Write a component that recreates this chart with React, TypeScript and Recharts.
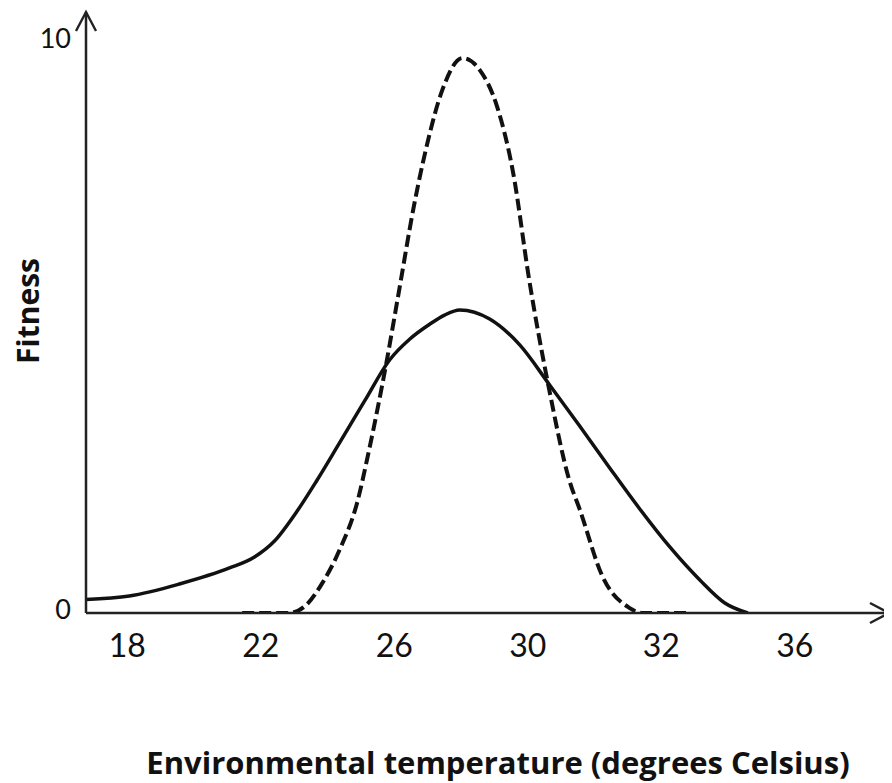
import React from 'react';
import { LineChart, Line, XAxis, YAxis } from 'recharts';

// Tick positions along the (visually evenly spaced) temperature axis, and their labels
const TICK_POSITIONS = [0, 1, 2, 3, 4, 5];
const TEMPERATURE_LABELS = ['18', '22', '26', '30', '32', '36'];
const FITNESS_TICKS = [0, 10];

// Broad (solid) fitness curve, x in tick-position units
const BROAD_X = [-0.311, 0.015, 0.39, 0.765, 0.952, 1.102, 1.267, 1.417, 1.589, 1.777, 1.964, 2.114, 2.264, 2.376, 2.489, 2.714, 2.939, 3.163, 3.388, 3.613, 3.838, 4.063, 4.288, 4.475, 4.648];
const BROAD_FITNESS = [0.235, 0.296, 0.504, 0.783, 0.974, 1.252, 1.757, 2.296, 2.957, 3.687, 4.4, 4.76, 5.02, 5.18, 5.27, 5.113, 4.661, 3.965, 3.252, 2.522, 1.809, 1.148, 0.574, 0.174, 0];

// Narrow (dashed) fitness curve
const NARROW_X = [0.86, 1.21, 1.34, 1.46, 1.59, 1.72, 1.81, 1.94, 2.04, 2.14, 2.24, 2.36, 2.51, 2.64, 2.77, 2.89, 3.01, 3.16, 3.31, 3.39, 3.56, 3.76, 3.86, 4.21];
const NARROW_FITNESS = [0, 0, 0.14, 0.52, 1.1, 1.91, 2.83, 4.35, 5.67, 7.0, 8.1, 9.1, 9.65, 9.44, 8.8, 7.65, 5.79, 3.88, 2.31, 1.79, 0.63, 0.09, 0, 0];

const broadData = BROAD_X.map((x, k) => ({ x, y: BROAD_FITNESS[k] }));
const narrowData = NARROW_X.map((x, k) => ({ x, y: NARROW_FITNESS[k] }));

const FONT = 'Lato, "Open Sans", sans-serif';
const TITLE_FONT = '"Open Sans", Lato, sans-serif';
const INK = '#111';

const XTick = (props: any) => {
  const { x, y, payload } = props;
  return (
    <text x={x} y={y + 44} textAnchor="middle" fontFamily={FONT} fontSize={32} fill={INK}>
      {TEMPERATURE_LABELS[payload.value]}
    </text>
  );
};

const YTick = (props: any) => {
  const { x, y, payload } = props;
  const shift = payload.value === 0 ? -5 : 0;
  return (
    <text x={x - 15} y={y + shift} textAnchor="end" dominantBaseline="central" fontFamily={FONT} fontSize={27} fill={INK}>
      {payload.value}
    </text>
  );
};

const XTitle = (props: any) => {
  const vb = props.viewBox || { x: 0, y: 0, width: 0, height: 0 };
  return (
    <text x={vb.x + 412} y={vb.y + 161} textAnchor="middle" fontFamily={TITLE_FONT} fontWeight={700} fontSize={31} fill={INK}>
      Environmental temperature (degrees Celsius)
    </text>
  );
};

const YTitle = (props: any) => {
  const vb = props.viewBox || { x: 0, y: 0, width: 0, height: 0 };
  const cx = vb.x + 19;
  const cy = vb.y + 299;
  return (
    <text x={cx} y={cy} transform={`rotate(-90, ${cx}, ${cy})`} textAnchor="middle" dominantBaseline="central" fontFamily={TITLE_FONT} fontWeight={700} fontSize={30} fill={INK}>
      Fitness
    </text>
  );
};

export default function App() {
  return (
    <div style={{ width: 884, height: 775, position: 'relative' }}>
      <svg width={0} height={0} style={{ position: 'absolute' }}>
        <defs>
          <marker id="axisArrow" viewBox="-2 -2 24 24" markerWidth={24} markerHeight={24} refX={19} refY={10} orient="auto-start-reverse" markerUnits="userSpaceOnUse">
            <path d="M0,0 L19,10 L0,20" fill="none" stroke="#222" strokeWidth={2.4} />
          </marker>
        </defs>
      </svg>
      <LineChart width={884} height={775} margin={{ top: 4, right: 3, bottom: 0, left: 0 }}>
        <XAxis
          type="number"
          dataKey="x"
          domain={[-0.31, 5.705]}
          ticks={TICK_POSITIONS}
          allowDataOverflow
          tickLine={false}
          tickSize={0}
          tickMargin={0}
          height={170}
          axisLine={{ stroke: '#222', strokeWidth: 2.5, markerEnd: 'url(#axisArrow)' }}
          tick={<XTick />}
          interval={0}
          label={<XTitle />}
        />
        <YAxis
          type="number"
          domain={[0, 10.45]}
          ticks={FITNESS_TICKS}
          allowDataOverflow
          tickLine={false}
          tickSize={0}
          tickMargin={0}
          width={78}
          axisLine={{ stroke: '#222', strokeWidth: 2.5, markerStart: 'url(#axisArrow)' }}
          tick={<YTick />}
          interval={0}
          label={<YTitle />}
        />
        <Line
          data={broadData}
          dataKey="y"
          type="monotone"
          stroke={INK}
          strokeWidth={3.5}
          dot={false}
          activeDot={false}
          isAnimationActive={false}
        />
        <Line
          data={narrowData}
          dataKey="y"
          type="monotone"
          stroke={INK}
          strokeWidth={4}
          strokeDasharray="12 5"
          dot={false}
          activeDot={false}
          isAnimationActive={false}
        />
      </LineChart>
    </div>
  );
}
